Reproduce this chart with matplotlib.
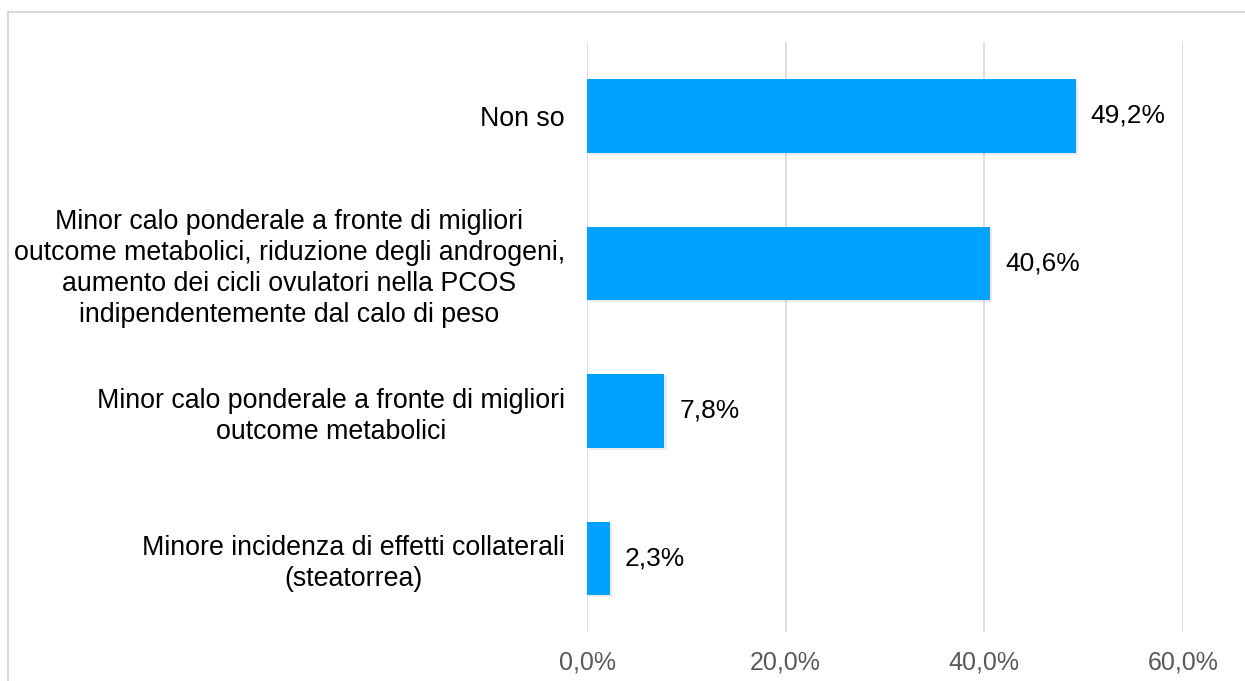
import matplotlib.pyplot as plt
import matplotlib.patheffects as pe
from matplotlib.patches import Rectangle

plt.rcParams["font.family"] = ["Liberation Sans", "DejaVu Sans"]

categories = [
    "Non so",
    "Minor calo ponderale a fronte di migliori\noutcome metabolici, riduzione degli androgeni,\naumento dei cicli ovulatori nella PCOS\nindipendentemente dal calo di peso",
    "Minor calo ponderale a fronte di migliori\noutcome metabolici",
    "Minore incidenza di effetti collaterali\n(steatorrea)",
]
values = [49.2, 40.6, 7.8, 2.3]
xticks = [0, 20, 40, 60]

fig = plt.figure(figsize=(12.45, 6.81), dpi=100)
ax = fig.add_axes([0.4715, 0.0716, 0.4787, 0.8664])

# frame around the chart area
fig.patches.append(Rectangle((8 / 1245, -0.1), 1.2, 1.1 - 12 / 681,
                             transform=fig.transFigure, fill=False,
                             edgecolor="#D9D9D9", linewidth=1.5))

ypos = list(range(len(categories)))
bars = ax.barh(ypos, values, height=0.5, color="#00A2FF", zorder=3)
for b in bars:
    b.set_path_effects([pe.SimplePatchShadow(offset=(1.5, -1.5), shadow_rgbFace="#000000",
                                             alpha=0.08), pe.Normal()])
for y, v in zip(ypos, values):
    ax.text(v + 1.5, y, f"{v:.1f}%".replace(".", ","), va="center", ha="left",
            fontsize=19, color="#000000")

ax.set_ylim(len(categories) - 0.5, -0.5)
ax.set_xlim(0, 60)
ax.set_yticks(ypos)
ax.set_yticklabels(categories, fontsize=19.3, multialignment="center",
                   linespacing=1.25)
ax.set_xticks(xticks)
ax.set_xticklabels([f"{t:.1f}%".replace(".", ",") for t in xticks],
                   fontsize=18, color="#595959")
ax.tick_params(axis="y", length=0, pad=16)
ax.tick_params(axis="x", length=0, pad=13)
ax.grid(axis="x", color="#D9D9D9", linewidth=1.2, zorder=0)
for s in ax.spines.values():
    s.set_visible(False)

fig.savefig("out.png", dpi=100)
